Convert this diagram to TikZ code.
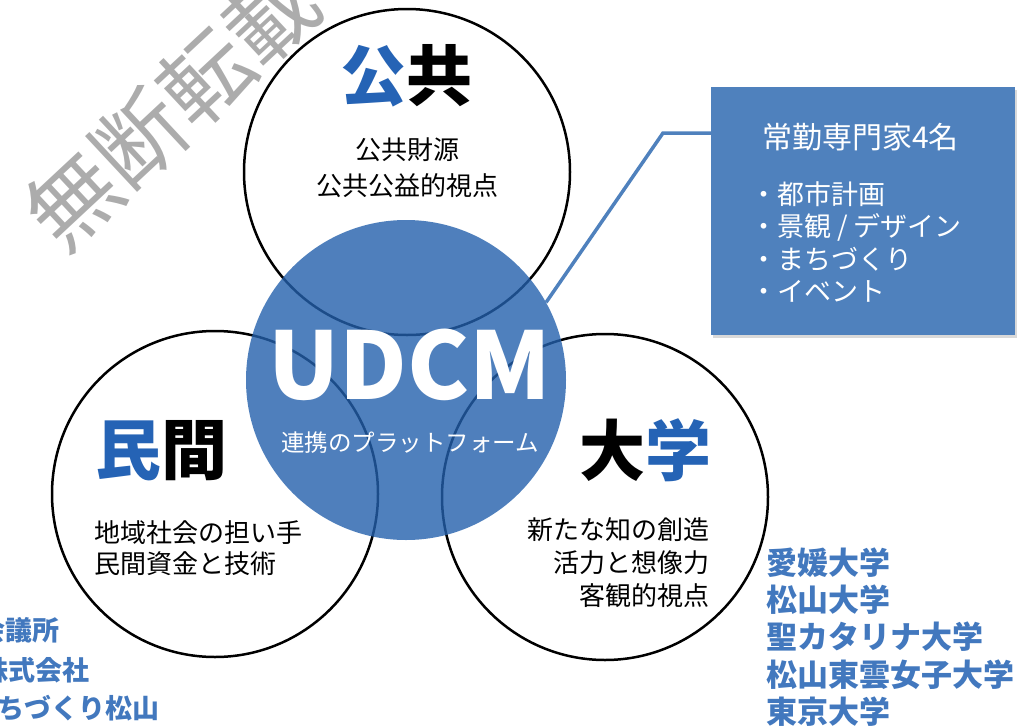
\documentclass[tikz,border=0pt]{standalone}
\usepackage{fontspec}
\newfontfamily\jp{Noto Sans CJK JP}
\usetikzlibrary{positioning,shadows}
\newcommand{\setfs}[2]{\fontsize{#1}{#2}\selectfont}
\definecolor{udblue}{RGB}{35,96,172}
\definecolor{boxblue}{RGB}{79,129,189}
\definecolor{headblue}{RGB}{37,99,181}
\definecolor{listblue}{RGB}{66,120,190}
\definecolor{wmgray}{RGB}{172,172,172}

\begin{document}
\begin{tikzpicture}[x=1pt,y=-1pt,font=\jp,
	ring/.style={circle,draw,line width=2.5pt,fill=white,minimum size=326pt,inner sep=0pt},
	head/.style={font=\jp\bfseries\setfs{66}{66},inner sep=0pt},
	note/.style={font=\jp\setfs{26}{33},inner sep=0pt},
	member/.style={font=\jp\bfseries\setfs{27}{27},text=listblue,inner sep=0pt,anchor=east},
	inbox/.style={text=white,inner sep=0pt,anchor=west,align=left}]

\useasboundingbox (0,0) rectangle (1026,726);

\node[rotate=43,text=wmgray,font=\jp\setfs{90}{90}] (stamp) at (172,108) {無断転載};

% the three partners
\node[ring] (pub)  at (407,172) {};
\node[ring] (priv) at (215,494) {};
\node[ring] (univ) at (605,497) {};

\node[circle,fill=udblue,fill opacity=0.8,minimum size=320pt,inner sep=0pt] (udcm) at (406,380) {};

\node[head] (pubhead)  at (406,76)  {\textcolor{headblue}{公}共};
\node[head] (privhead) at (161,451) {\textcolor{headblue}{民}間};
\node[head] (univhead) at (645,450) {大\textcolor{headblue}{学}};

\node[note,align=center,font=\jp\setfs{26}{36}] (pubnote) at (407,168) {公共財源\\公共公益的視点};
\node[note,align=left,anchor=west,font=\jp\setfs{26}{31}] (privnote) at (94,548) {地域社会の担い手\\民間資金と技術};
\node[note,align=right,anchor=east] (univnote) at (710,563) {新たな知の創造\\活力と想像力\\客観的視点};

\node[text=white,font=\jp\bfseries\setfs{93}{93},inner sep=0pt] (udcmname) at (410,365) {UDCM};
\node[text=white,font=\jp\setfs{23.5}{23.5},inner sep=0pt] (udcmsub) at (410,443) {連携のプラットフォーム};

% staff box
\node[fill=boxblue,minimum width=304pt,minimum height=248pt,inner sep=0pt,
	drop shadow={opacity=0.3,shadow xshift=2pt,shadow yshift=-3pt}] (staff) at (863,211) {};
\node[inbox,font=\jp\setfs{30}{30}] (stafftitle) at (762,137) {常勤専門家4名};
\node[inbox,font=\jp\setfs{27}{32.3}] (stafflist) at (750,242) {・都市計画\\・景観 / デザイン\\・まちづくり\\・イベント};

\coordinate (bend) at (663,133);
\draw[boxblue,line width=3.5pt] (udcm.29) -- (bend) -- (bend -| staff.west);

% members
\node[member,anchor=west,align=left,font=\jp\bfseries\setfs{31}{37.2}] (unilist) at (766,637)
	{愛媛大学\\松山大学\\聖カタリナ大学\\松山東雲女子大学\\東京大学};
\node[member] (m1) at (60,630)  {会議所};
\node[member] (m2) at (90,670)  {株式会社};
\node[member] (m3) at (160,708) {まちづくり松山};

\end{tikzpicture}
\end{document}
